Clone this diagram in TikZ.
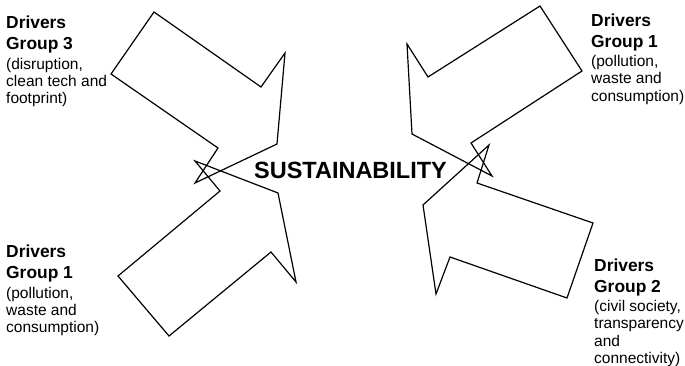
\documentclass[tikz,border=0pt]{standalone}
\usepackage{fontspec}
\setmainfont{Liberation Sans}
\begin{document}
\begin{tikzpicture}[x=1pt,y=-1pt]
	\tikzset{
		bigarrow/.style={draw, line width=1.2pt, line join=miter},
		driver/.style={anchor=north west, align=left, inner sep=0pt, font=\fontsize{15.5}{17.4}\selectfont}
	}
	\useasboundingbox (0,0) rectangle (685,366);
	\draw[bigarrow] (154,12) -- (261,87) -- (285,53) -- (277,144) -- (195,183) -- (218,148) -- (111,74) -- cycle;
	\draw[bigarrow] (118,276) -- (220,191) -- (195,161) -- (278,193) -- (296,282) -- (271,252) -- (169,336) -- cycle;
	\draw[bigarrow] (540,6) -- (428,77) -- (407,44) -- (412,134) -- (492,176) -- (471,143) -- (582,71) -- cycle;
	\draw[bigarrow] (593,223) -- (477,183) -- (489,145) -- (423,205) -- (436,294) -- (450,257) -- (567,298) -- cycle;
	\node[anchor=base, inner sep=0pt, font=\fontsize{23.5}{23.5}\bfseries] (sust) at (350.5,178.3) {SUSTAINABILITY};
	\node[driver] (grp3) at (6,16) {{\fontsize{17.4}{17}\bfseries Drivers}\\[3.6pt]{\fontsize{17.4}{17}\bfseries Group 3}\\[1.8pt](disruption,\\clean tech and\\footprint)};
	\node[driver] (grp1a) at (591,13.4) {{\fontsize{17.4}{17}\bfseries Drivers}\\[3.6pt]{\fontsize{17.4}{17}\bfseries Group 1}\\[1.8pt](pollution,\\waste and\\consumption)};
	\node[driver] (grp1b) at (6,245) {{\fontsize{17.4}{17}\bfseries Drivers}\\[3.6pt]{\fontsize{17.4}{17}\bfseries Group 1}\\[1.8pt](pollution,\\waste and\\consumption)};
	\node[driver] (grp2) at (594,258.4) {{\fontsize{17.4}{17}\bfseries Drivers}\\[3.6pt]{\fontsize{17.4}{17}\bfseries Group 2}\\[1.8pt](civil society,\\transparency\\and\\connectivity)};
\end{tikzpicture}
\end{document}
